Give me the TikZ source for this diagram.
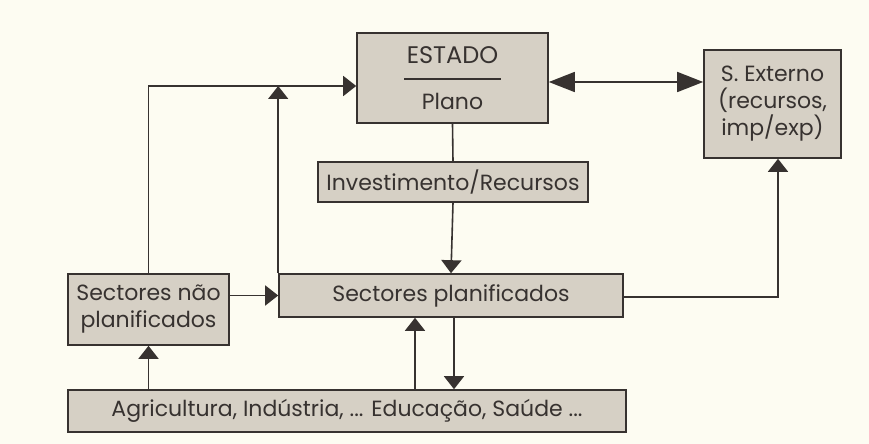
\documentclass[tikz,border=0pt]{standalone}
\usepackage{fontspec}
\setmainfont{Poppins}
\usepackage{tikz}
\usetikzlibrary{arrows.meta}
\definecolor{paper}{RGB}{253,252,242}
\definecolor{boxfill}{RGB}{214,208,197}
\definecolor{ink}{RGB}{55,50,48}
\tikzset{
  box/.style={draw=ink,fill=boxfill,line width=0.8pt,text=ink,align=center,inner sep=0pt,font=\fontsize{11}{13.5}\selectfont},
  arr/.style={-{Triangle[length=6.5pt,width=10pt]}},
  dblarr/.style={{Triangle[length=13pt,width=10pt]}-{Triangle[length=13pt,width=10pt]}}
}

\begin{document}
\begin{tikzpicture}[x=0.5pt,y=-0.5pt,line width=0.8pt,draw=ink]
  \fill[paper] (0,0) rectangle (869,444);
  \useasboundingbox (0,0) rectangle (869,444);
  \draw node (estado) [box,minimum width=95.5pt,minimum height=45pt] at (452.5,78)
    {\fontsize{12}{13.5}\selectfont ESTADO\\[-5pt]\rule{48.5pt}{1.2pt}\\[1pt]Plano};
  \draw node (ext) [box,minimum width=68.5pt,minimum height=54pt] at (772.5,104)
    {S. Externo\\(recursos,\\imp/exp)};
  \draw node (inv) [box,minimum width=135pt,minimum height=20pt] at (453,182) {Investimento/Recursos};
  \draw node (nplan) [box,minimum width=80.5pt,minimum height=35.5pt] at (148.5,309.5)
    {Sectores não\\planificados};
  \draw node (plan) [box,minimum width=172pt,minimum height=21.5pt] at (451,295.5) {Sectores planificados};
  \draw node (agri) [box,minimum width=279pt,minimum height=21pt] at (347,411)
    {Agricultura, Indústria, ... Educação, Saúde ...};
  \coordinate (e1) at ([yshift=-2pt]estado.east);   % nivel da seta dupla
  \coordinate (e2) at ([yshift=-4pt]estado.west);   % retorno ao plano
  \draw (estado.south) -- (inv.north);
  \draw[arr] (inv.south) -- (plan.north);
  \draw[dblarr] (e1) -- (e1 -| ext.west);
  \draw[arr] (nplan.north) |- (e2);
  \draw[arr] (plan.north west) -- (plan.north west |- e2);
  \draw[arr] (plan.west -| nplan.east) -- (plan.west);
  \draw[arr] (agri.north -| nplan.south) -- (nplan.south);
  \draw[arr] ([xshift=-18pt]plan.south |- agri.north) -- ([xshift=-18pt]plan.south);
  \draw[arr] ([xshift=1.5pt]plan.south) -- ([xshift=1.5pt]plan.south |- agri.north);
  \draw[arr] ([yshift=-0.75pt]plan.east) -| ([xshift=2.75pt]ext.south);
\end{tikzpicture}
\end{document}
